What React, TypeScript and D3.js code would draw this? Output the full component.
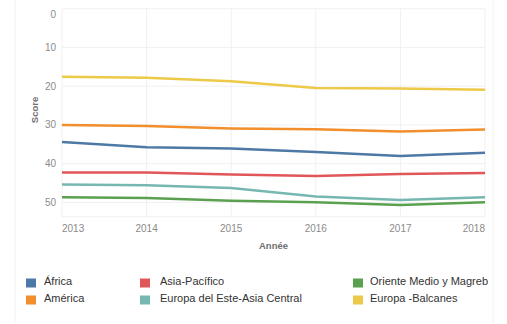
import React from "react";
import * as d3 from "d3";

const years = [2013, 2014, 2015, 2016, 2017, 2018];
const africa = [34.4, 35.8, 36.1, 37.0, 38.0, 37.2];
const america = [30.0, 30.3, 30.9, 31.1, 31.7, 31.2];
const asiaPacifico = [42.3, 42.3, 42.8, 43.2, 42.7, 42.4];
const europaEste = [45.4, 45.6, 46.3, 48.5, 49.4, 48.7];
const orienteMedio = [48.7, 48.9, 49.6, 50.0, 50.7, 50.0];
const europaBalcanes = [17.6, 17.8, 18.7, 20.5, 20.6, 20.9];
const yTicks = [0, 10, 20, 30, 40, 50];

const series = [
  { name: "África", values: africa, color: "#4e79a7" },
  { name: "América", values: america, color: "#f28e2b" },
  { name: "Asia-Pacífico", values: asiaPacifico, color: "#e15759" },
  { name: "Europa del Este-Asia Central", values: europaEste, color: "#76b7b2" },
  { name: "Oriente Medio y Magreb", values: orienteMedio, color: "#59a14f" },
  { name: "Europa -Balcanes", values: europaBalcanes, color: "#edc948" },
];

const legendLayout = [
  { col: 0, row: 0 },
  { col: 0, row: 1 },
  { col: 1, row: 0 },
  { col: 1, row: 1 },
  { col: 2, row: 0 },
  { col: 2, row: 1 },
];

export default function App() {
  const W = 507, H = 324;
  const left = 62, right = 485, top = 8.7, bottom = 216.7;
  const x = d3.scaleLinear().domain([2013, 2018]).range([left, right]);
  const y = d3.scaleLinear().domain([0, 53.7]).range([top, bottom]);
  const line = d3
    .line<number>()
    .x((_, i) => x(years[i]))
    .y((d) => y(d));
  const font = "'Liberation Sans', Arial, sans-serif";
  const colX = [26, 140, 353];
  const textOff = [18, 20, 17];
  const rowY = [283, 300];

  return (
    <div style={{ position: "fixed", left: 0, top: 0 }}>
      <svg width={W} height={H} style={{ display: "block", background: "#fff" }}>
        <line x1={15} x2={15} y1={0} y2={H} stroke="#f2f2f2" />
        <line x1={493} x2={493} y1={0} y2={H} stroke="#f2f2f2" />
        {yTicks.map((t) => (
          <line key={"h" + t} x1={left} x2={right} y1={y(t)} y2={y(t)} stroke="#f0f0f0" />
        ))}
        <line x1={left} x2={right} y1={bottom} y2={bottom} stroke="#f0f0f0" />
        {years.map((yr) => (
          <line key={"v" + yr} x1={x(yr)} x2={x(yr)} y1={top} y2={bottom} stroke="#f0f0f0" />
        ))}
        {yTicks.map((t) => (
          <text
            key={"yl" + t}
            x={56}
            y={t === 0 ? y(t) + 6 : y(t)}
            dy="0.35em"
            textAnchor="end"
            fontSize={10}
            fill="#8a8a8a"
            fontFamily={font}
          >
            {t}
          </text>
        ))}
        {years.map((yr, i) => (
          <text
            key={"xl" + yr}
            x={x(yr)}
            y={228}
            dy="0.35em"
            textAnchor={i === 0 ? "start" : i === years.length - 1 ? "end" : "middle"}
            fontSize={10}
            fill="#8a8a8a"
            fontFamily={font}
          >
            {yr}
          </text>
        ))}
        <text
          x={(left + right) / 2}
          y={246}
          dy="0.35em"
          textAnchor="middle"
          fontSize={9.5}
          fontWeight="bold"
          fill="#707070"
          fontFamily={font}
        >
          Année
        </text>
        <text
          transform={`translate(35, ${110}) rotate(-90)`}
          textAnchor="middle"
          dy="0.35em"
          fontSize={9.5}
          fontWeight="bold"
          fill="#707070"
          fontFamily={font}
        >
          Score
        </text>
        {series.map((s) => (
          <path key={s.name} d={line(s.values) || ""} fill="none" stroke={s.color} strokeWidth={2.5} />
        ))}
        {series.map((s, i) => {
          const { col, row } = legendLayout[i];
          return (
            <g key={"lg" + s.name} transform={`translate(${colX[col]}, ${rowY[row]})`}>
              <rect x={0} y={-4.5} width={10} height={9} fill={s.color} />
              <text x={textOff[col]} y={-1.5} dy="0.35em" fontSize={11} fill="#333" fontFamily={font}>
                {s.name}
              </text>
            </g>
          );
        })}
      </svg>
    </div>
  );
}
